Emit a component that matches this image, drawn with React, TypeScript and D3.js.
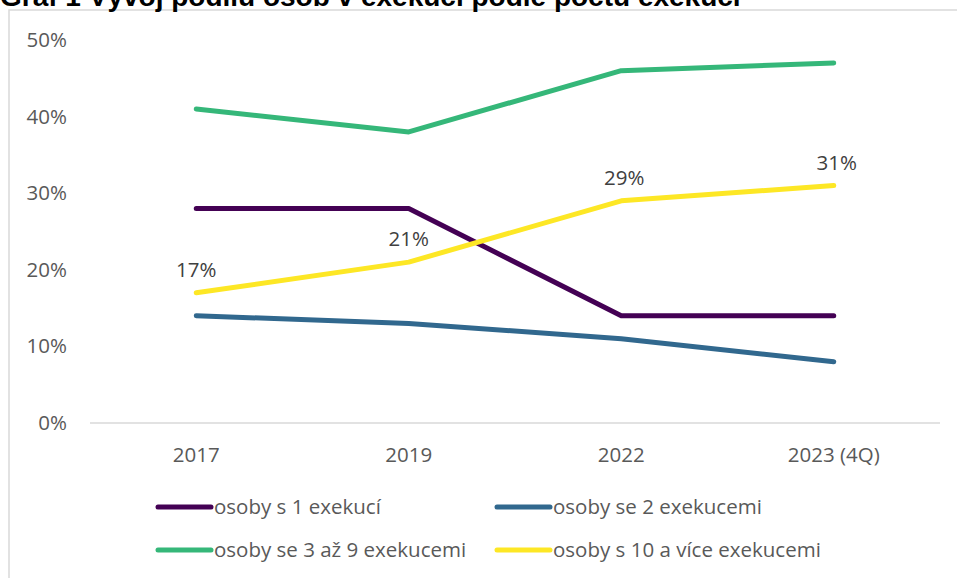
import React from "react";
import * as d3 from "d3";

const categories = ["2017", "2019", "2022", "2023 (4Q)"];
const seriesNames = [
  "osoby s 1 exekucí",
  "osoby se 2 exekucemi",
  "osoby se 3 až 9 exekucemi",
  "osoby s 10 a více exekucemi",
];
const s1 = [28, 28, 14, 14];
const s2 = [14, 13, 11, 8];
const s3 = [41, 38, 46, 47];
const s4 = [17, 21, 29, 31];
const yTicks = [0, 10, 20, 30, 40, 50];
const colors = ["#440154", "#31688e", "#35b779", "#fde725"];
const title = "Graf 1 Vývoj podílu osob v exekuci podle počtu exekucí";

const W = 957;
const H = 578;
const font = "'Open Sans', sans-serif";

export default function App() {
  const x = d3.scaleBand<string>().domain(categories).range([90, 940]);
  const y = d3.scaleLinear().domain([0, 50]).range([423, 40]);
  const cx = (c: string) => (x(c) ?? 0) + x.bandwidth() / 2;
  const line = d3
    .line<number>()
    .x((_, i) => cx(categories[i]))
    .y((d) => y(d));
  const all = [s1, s2, s3, s4];

  const legend = [
    { x: 158, y: 507 },
    { x: 497, y: 507 },
    { x: 158, y: 550 },
    { x: 497, y: 550 },
  ];

  return (
    <div style={{ position: "absolute", left: 0, top: 0 }}>
      <svg width={W} height={H} style={{ display: "block" }}>
        <rect x={0} y={0} width={W} height={H} fill="#fff" />
        <rect x={9} y={10} width={960} height={600} fill="none" stroke="#d9d9d9" strokeWidth={1.5} />
        <text x={0} y={6} fontFamily="'Liberation Sans', Arial, sans-serif" fontWeight="bold" fontSize={28} fill="#000">
          {title}
        </text>
        {yTicks.map((t) => (
          <text key={t} x={67} y={y(t) + 7} textAnchor="end" fontFamily={font} fontSize={20.5} fill="#595959">
            {t}%
          </text>
        ))}
        <line x1={90} x2={940} y1={y(0)} y2={y(0)} stroke="#d9d9d9" strokeWidth={1.5} />
        {categories.map((c) => (
          <text key={c} x={cx(c)} y={462} textAnchor="middle" fontFamily={font} fontSize={20.5} fill="#595959">
            {c}
          </text>
        ))}
        {all.map((s, i) => (
          <path key={i} d={line(s) ?? ""} fill="none" stroke={colors[i]} strokeWidth={5} strokeLinecap="round" strokeLinejoin="round" />
        ))}
        {s4.map((v, i) => (
          <text key={i} x={cx(categories[i]) + (i >= 2 ? 3 : 0)} y={y(v) - 16} textAnchor="middle" fontFamily={font} fontSize={20.5} fill="#404040">
            {v}%
          </text>
        ))}
        {legend.map((l, i) => (
          <g key={i}>
            <line x1={l.x} x2={l.x + 53} y1={l.y} y2={l.y} stroke={colors[i]} strokeWidth={5} strokeLinecap="round" />
            <text x={l.x + 56} y={l.y + 7} fontFamily={font} fontSize={20.5} fill="#595959">
              {seriesNames[i]}
            </text>
          </g>
        ))}
      </svg>
    </div>
  );
}
